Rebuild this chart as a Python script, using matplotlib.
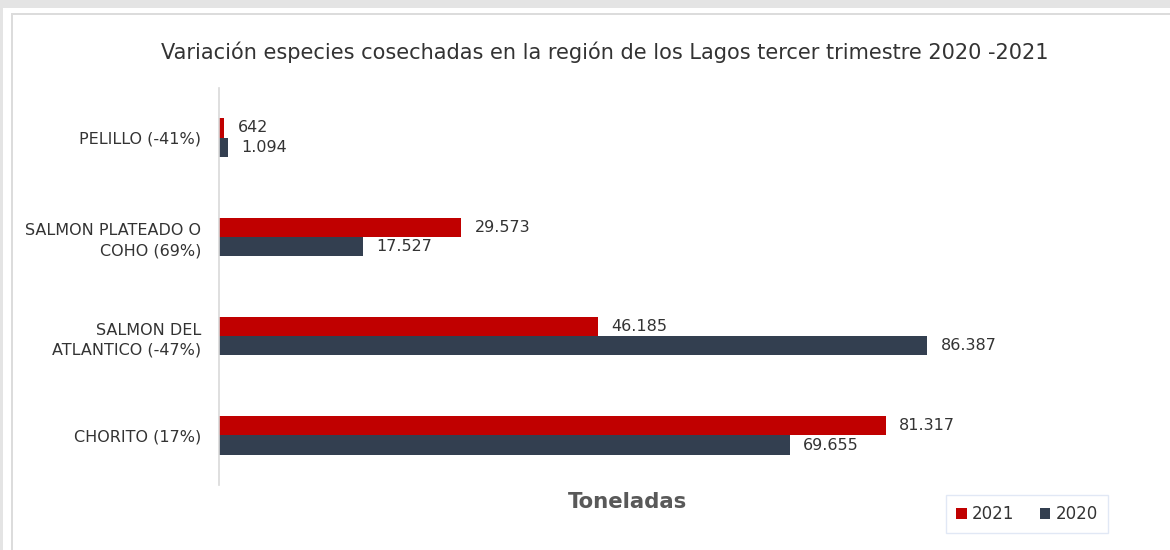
import matplotlib
matplotlib.use("Agg")
import matplotlib.pyplot as plt
from matplotlib.patches import Rectangle
import numpy as np

plt.rcParams["font.family"] = ["DejaVu Sans"]

categories = ["CHORITO (17%)", "SALMON DEL\nATLANTICO (-47%)",
              "SALMON PLATEADO O\nCOHO (69%)", "PELILLO (-41%)"]
values_2021 = [81317, 46185, 29573, 642]
values_2020 = [69655, 86387, 17527, 1094]
labels_2021 = ["81.317", "46.185", "29.573", "642"]
labels_2020 = ["69.655", "86.387", "17.527", "1.094"]
series_names = ["2021", "2020"]

RED = "#C00000"
NAVY = "#333F50"

W, H = 1170, 550
fig = plt.figure(figsize=(W / 100, H / 100), dpi=100)
fig.patch.set_facecolor("white")

def rect_px(x0, y0, x1, y1, color):
    fig.patches.append(Rectangle((x0 / W, 1 - y1 / H), (x1 - x0) / W, (y1 - y0) / H,
                                 transform=fig.transFigure, facecolor=color,
                                 edgecolor="none", zorder=0))

# outer gray border strips
rect_px(0, 0, W, 8, "#e4e4e4")
rect_px(0, 0, 3, H, "#e4e4e4")
# inner frame lines
rect_px(11, 13, W, 15, "#dcdcdc")
rect_px(11, 13, 13, H, "#dcdcdc")

ax = fig.add_axes([219 / W, 1 - 485 / H, 820 / W, 397 / H])
y = np.arange(len(categories))
h = 0.195
ax.barh(y + h / 2, values_2021, height=h, color=RED, label=series_names[0])
ax.barh(y - h / 2, values_2020, height=h, color=NAVY, label=series_names[1])

for yi, v, lab in zip(y, values_2021, labels_2021):
    ax.text(v + 1600, yi + h / 2, lab, va="center", ha="left", fontsize=11.5, color="#333333")
for yi, v, lab in zip(y, values_2020, labels_2020):
    ax.text(v + 1600, yi - h / 2, lab, va="center", ha="left", fontsize=11.5, color="#333333")

ax.set_xlim(0, 100000)
ax.set_ylim(-0.5, 3.5)
ax.set_yticks(y)
ax.set_yticklabels(categories, fontsize=11.5, color="#333333", linespacing=1.4)
ax.tick_params(axis="y", length=0, pad=13)
ax.set_xticks([])
for s in ["top", "right", "bottom"]:
    ax.spines[s].set_visible(False)
ax.spines["left"].set_color("#d9d9d9")
ax.spines["left"].set_linewidth(1.2)

fig.text(605 / W, 1 - 52 / H, "Variación especies cosechadas en la región de los Lagos tercer trimestre 2020 -2021",
         ha="center", va="center", fontsize=15, color="#333333")
fig.text(628 / W, 1 - 502 / H, "Toneladas", ha="center", va="center",
         fontsize=15.3, fontweight="bold", color="#595959")

leg = fig.legend(loc="center", bbox_to_anchor=(1027 / W, 1 - 514 / H), ncol=2,
                 frameon=True, fontsize=12, handlelength=0.65, handleheight=0.65,
                 handletextpad=0.3, columnspacing=1.5, borderpad=0.6, fancybox=False,
                 borderaxespad=0, labelcolor="#333333")
leg.get_frame().set_edgecolor("#dae3f3")
leg.get_frame().set_linewidth(1.0)

fig.savefig("out.png", dpi=100, facecolor=fig.get_facecolor())
